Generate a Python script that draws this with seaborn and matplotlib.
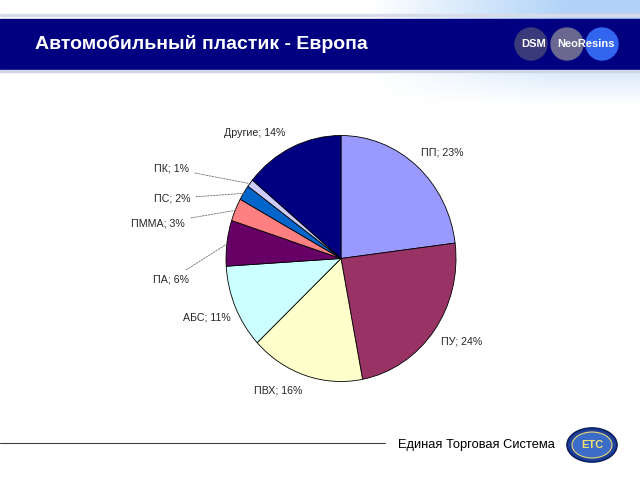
import numpy as np
import matplotlib
matplotlib.use("Agg")
import matplotlib.pyplot as plt
import seaborn as sns
from matplotlib.patches import Rectangle, Ellipse

sns.set_theme(style="white")
plt.rcParams['font.family'] = ['Liberation Sans', 'DejaVu Sans']

title = "Автомобильный пластик - Европа"
categories = ["ПП", "ПУ", "ПВХ", "АБС", "ПА", "ПММА", "ПС", "ПК", "Другие"]
shares = [23, 24, 16, 11, 6, 3, 2, 1, 14]
colors = ["#9999FF", "#993366", "#FFFFCC", "#CCFFFF", "#660066",
          "#FF8080", "#0066CC", "#CCCCFF", "#000080"]
footer = "Единая Торговая Система"
brand = ["DSM", "NeoResins"]

W, H = 640, 480
fig = plt.figure(figsize=(6.4, 4.8), dpi=100)
fig.patch.set_facecolor("white")

def fx(px): return px / W
def fy(py): return 1 - py / H

# background decoration (light blue gradient top-right, fading downward)
bg = fig.add_axes([0, fy(110), 1, 110 / H], zorder=0)
ny, nx = 110, 320
xs = np.linspace(0, 1, nx)
ys = np.linspace(0, 1, ny)  # 0 = top
ax_alpha = np.clip((xs - 0.58) / 0.3, 0, 1)
ay_alpha = np.clip(1 - (ys - 0.35) / 0.6, 0, 1)
grad = np.zeros((ny, nx, 4))
grad[..., 0] = 0.5
grad[..., 1] = 0.72
grad[..., 2] = 0.95
grad[..., 3] = 0.6 * ay_alpha[:, None] * ax_alpha[None, :]
bg.imshow(grad, aspect="auto", extent=[0, 1, 0, 1], origin="upper")
bg.set_xlim(0, 1); bg.set_ylim(0, 1)
bg.axis("off")

# header band
fig.patches.append(Rectangle((0, fy(16)), 1, 1.5 / H, transform=fig.transFigure,
                             color="#d8dce8", zorder=1))
fig.patches.append(Rectangle((0, fy(69)), 1, 50 / H, transform=fig.transFigure,
                             color="#000080", zorder=1))
fig.patches.append(Rectangle((0, fy(72)), 1, 2 / H, transform=fig.transFigure,
                             color="#d0d6e4", zorder=1))
fig.text(fx(35), fy(44), title, color="white", fontsize=14, fontweight="bold",
         va="center", ha="left", zorder=3)

# brand circles
for cx, col in [(531, "#3a3a7a"), (567, "#6a6890"), (602, "#3366ee")]:
    fig.patches.append(Ellipse((fx(cx), fy(44)), 32 / W, 32 / H,
                               transform=fig.transFigure, color=col, zorder=2))
fig.text(fx(534), fy(44), brand[0], color="white", fontsize=8, fontweight="bold",
         ha="center", va="center", zorder=3)
fig.text(fx(586), fy(44), brand[1], color="white", fontsize=8, fontweight="bold",
         ha="center", va="center", zorder=3)

# footer
fig.lines.append(plt.Line2D([0, fx(385)], [fy(443), fy(443)], transform=fig.transFigure,
                            color="#404040", lw=0.8))
fig.text(fx(398), fy(445), footer, fontsize=9.3, ha="left", va="center", color="black")
fig.patches.append(Ellipse((fx(592), fy(445)), 50 / W, 34 / H, transform=fig.transFigure,
                           facecolor="#1d3f9a", edgecolor="#0a1f60", lw=1.2, zorder=2))
fig.patches.append(Ellipse((fx(592), fy(445)), 40 / W, 26 / H, transform=fig.transFigure,
                           facecolor="#3a6cc8", edgecolor="#e8d870", lw=0.8, zorder=2))
fig.text(fx(592), fy(445), "ЕТС", fontsize=8, fontweight="bold", color="#f2e070",
         ha="center", va="center", zorder=3)

# pie (slightly elliptical, as in the reference)
cx_px, cy_px, rx_px, ry_px = 341, 258.5, 115, 123
ax = fig.add_axes([fx(cx_px - rx_px), fy(cy_px + ry_px), 2 * rx_px / W, 2 * ry_px / H],
                  zorder=2)
wedges, _ = ax.pie(shares, colors=colors, startangle=90, counterclock=False,
                   wedgeprops=dict(edgecolor="black", linewidth=0.6))
ax.set_xlim(-1, 1); ax.set_ylim(-1, 1)
ax.set_aspect("auto")
ax.axis("off")

# label positions (pixel offsets relative to pie center) -- layout only
label_pos = [(101, -106), (121, 83), (-63, 132), (-134, 59), (-152, 21),
             (-156, -35), (-151, -60), (-152, -90), (-86, -126)]
leader = [False, False, False, False, True, True, True, True, False]
for w, cat, s, (dx, dy), lead in zip(wedges, categories, shares, label_pos, leader):
    tx, ty = dx / rx_px, -dy / ry_px
    txt = f"{cat}; {s}%"
    if lead:
        ang = np.deg2rad((w.theta1 + w.theta2) / 2)
        ex, ey = np.cos(ang) * 0.99, np.sin(ang) * 0.99
        ax.annotate(txt, xy=(ex, ey), xytext=(tx, ty), fontsize=7.7, ha="right",
                    va="center", annotation_clip=False,
                    arrowprops=dict(arrowstyle="-", color="#707070", lw=0.6,
                                    linestyle=(0, (2, 1.5)), shrinkA=2, shrinkB=0))
    else:
        ax.text(tx, ty, txt, fontsize=7.7, ha="center", va="center", clip_on=False)

fig.savefig("out.png", dpi=100)
